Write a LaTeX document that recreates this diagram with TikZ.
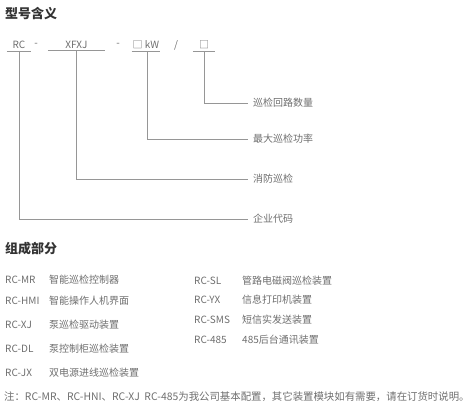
\documentclass[tikz,border=0pt]{standalone}
\usepackage{fontspec}
\setmainfont{Noto Sans CJK SC}
\usetikzlibrary{positioning,calc}
\definecolor{titlegray}{RGB}{51,51,51}
\definecolor{textgray}{RGB}{110,110,110}
\definecolor{linegray}{RGB}{150,150,150}

\begin{document}
\begin{tikzpicture}[x=1pt,y=-1pt,
    title/.style={anchor=west,inner sep=0pt,font=\fontsize{13}{15}\selectfont\bfseries,text=titlegray},
    field/.style={inner sep=1pt,font=\fontsize{10}{12}\selectfont,text=textgray},
    lab/.style={anchor=west,inner sep=0pt,font=\fontsize{10}{12}\selectfont,text=textgray},
    code/.style={anchor=west,inner sep=0pt,font=\fontsize{10}{12}\selectfont,text=textgray},
    conn/.style={draw=linegray,line width=0.9pt}]
    \useasboundingbox (0,0) rectangle (476,415);
    % model number
    \node[title] (t1) at (5,14) {型号含义};
    \node[field,minimum width=24pt] (rc) at (19,45) {RC};
    \node[field] (d1) at (36,45) {-};
    \node[field,minimum width=57pt] (xf) at (76.5,45) {XFXJ};
    \node[field] (d2) at (118,45) {-};
    \node[field,minimum width=27pt] (kw) at (146,45) {□ kW};
    \node[field] (sl) at (176,45) {/};
    \node[field,minimum width=22pt] (bx) at (204,45) {□};
    \foreach \f in {rc,xf,kw,bx}
      \draw[conn] ([yshift=-1pt]\f.south west) -- ([yshift=-1pt]\f.south east);
    % meanings
    \node[lab] (m4) at (253,103) {巡检回路数量};
    \node[lab] (m3) at (253,139) {最大巡检功率};
    \node[lab] (m2) at (253,179) {消防巡检};
    \node[lab] (m1) at (253,219) {企业代码};
    \draw[conn] ([yshift=-1pt]bx.south) |- ([xshift=-5pt]m4.west);
    \draw[conn] ([xshift=1pt,yshift=-1pt]kw.south) |- ([xshift=-5pt]m3.west);
    \draw[conn] ([yshift=-1pt]xf.south) |- ([xshift=-5pt]m2.west);
    \draw[conn] ([yshift=-1pt]rc.south) |- ([xshift=-5pt]m1.west);
    % parts
    \node[title] (t2) at (5,249) {组成部分};
    \foreach \c/\d/\y [count=\i] in {RC-MR/智能巡检控制器/280,RC-HMI/智能操作人机界面/301,
        RC-XJ/泵巡检驱动装置/325,RC-DL/泵控制柜巡检装置/349,RC-JX/双电源进线巡检装置/373}{
      \node[code] (c\i) at (5,\y) {\c};
      \node[code] (n\i) at (49,\y) {\d};
    }
    \foreach \c/\d/\y [count=\i] in {RC-SL/管路电磁阀巡检装置/281,RC-YX/信息打印机装置/300,
        RC-SMS/短信实发送装置/320,RC-485/485后台通讯装置/340}{
      \node[code] (r\i) at (194,\y) {\c};
      \node[code] (s\i) at (242,\y) {\d};
    }
    % note
    \node[code,font=\fontsize{10.4}{12}\selectfont] (note) at (4,397) {注：RC-MR、RC-HNI、RC-XJ\ \ RC-485为我公司基本配置，其它装置模块如有需要，请在订货时说明。};
\end{tikzpicture}
\end{document}
